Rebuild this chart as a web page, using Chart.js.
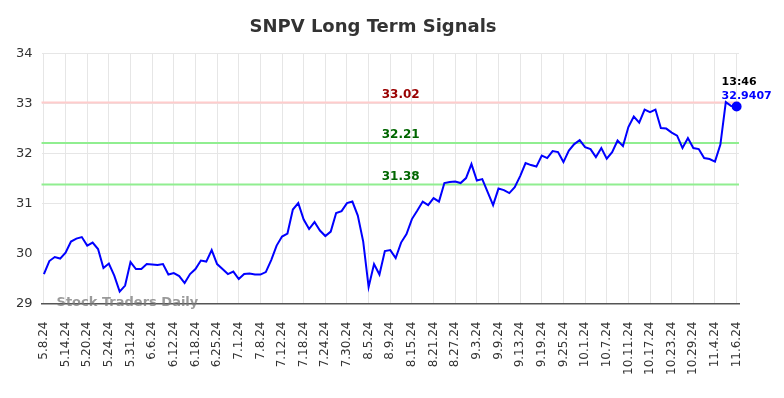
<!DOCTYPE html>
<html lang="en">
<head>
    <meta charset="UTF-8">
    <title>SNPV Long Term Signals</title>
    <script src="https://cdn.jsdelivr.net/npm/chart.js"></script>
    <style>
        body { margin: 0; background: #ffffff; }
        .wrap { width: 784px; height: 398px; }
    </style>
</head>
<body>
<div class="wrap"><canvas id="signalChart" width="784" height="398"></canvas></div>

<script>
    // Tick labels, one every 4 trading days
    const tickLabels = ['5.8.24', '5.14.24', '5.20.24', '5.24.24', '5.31.24', '6.6.24', '6.12.24', '6.18.24',
        '6.25.24', '7.1.24', '7.8.24', '7.12.24', '7.18.24', '7.24.24', '7.30.24', '8.5.24', '8.9.24',
        '8.15.24', '8.21.24', '8.27.24', '9.3.24', '9.9.24', '9.13.24', '9.19.24', '9.25.24', '10.1.24',
        '10.7.24', '10.11.24', '10.17.24', '10.23.24', '10.29.24', '11.4.24', '11.6.24'];

    // Closing prices
    const prices = [
        29.59, 29.85, 29.93, 29.90, 30.02, 30.24, 30.30, 30.33, 30.16, 30.22,
        30.09, 29.71, 29.80, 29.56, 29.24, 29.36, 29.83, 29.69, 29.69, 29.79,
        29.78, 29.77, 29.79, 29.58, 29.61, 29.55, 29.41, 29.59, 29.69, 29.86,
        29.84, 30.07, 29.79, 29.69, 29.59, 29.64, 29.49, 29.59, 29.60, 29.58,
        29.58, 29.63, 29.87, 30.16, 30.34, 30.40, 30.88, 31.01, 30.68, 30.49,
        30.63, 30.46, 30.35, 30.44, 30.81, 30.85, 31.01, 31.04, 30.76, 30.24,
        29.33, 29.79, 29.58, 30.05, 30.07, 29.91, 30.22, 30.39, 30.69, 30.86,
        31.04, 30.97, 31.11, 31.04, 31.41, 31.43, 31.44, 31.41, 31.51, 31.79,
        31.46, 31.49, 31.23, 30.97, 31.30, 31.27, 31.21, 31.33, 31.55, 31.81,
        31.77, 31.74, 31.96, 31.91, 32.05, 32.03, 31.83, 32.06, 32.19, 32.27,
        32.13, 32.09, 31.93, 32.11, 31.90, 32.03, 32.26, 32.15, 32.53, 32.74,
        32.62, 32.88, 32.83, 32.88, 32.51, 32.50, 32.42, 32.36, 32.11, 32.31,
        32.11, 32.09, 31.91, 31.89, 31.84, 32.18, 33.03, 32.95, 32.9407
    ];

    // Signal levels
    const levelValues = [33.02, 32.21, 31.38];
    const levelLineColors = ['#ffcccc', '#90ee90', '#90ee90'];
    const levelTextColors = ['#990000', '#006600', '#006600'];

    const lastTime = '13:46';
    const lastIndex = prices.length - 1;

    Chart.defaults.font.family = "'DejaVu Sans', sans-serif";

    // Draws the signal levels, their labels, the last price note and the watermark
    const signalPlugin = {
        id: 'signals',
        beforeDatasetsDraw(chart) {
            const { ctx, chartArea, scales } = chart;
            ctx.save();
            levelValues.forEach((v, i) => {
                const y = scales.y.getPixelForValue(v);
                ctx.strokeStyle = levelLineColors[i];
                ctx.lineWidth = 2;
                ctx.beginPath();
                ctx.moveTo(chartArea.left, y);
                ctx.lineTo(chartArea.right, y);
                ctx.stroke();
            });
            ctx.restore();
        },
        afterDatasetsDraw(chart) {
            const { ctx, chartArea, scales } = chart;
            ctx.save();
            const cx = chartArea.left + chartArea.width * 0.515;
            ctx.font = "bold 12px 'DejaVu Sans'";
            ctx.textAlign = 'center';
            ctx.textBaseline = 'middle';
            levelValues.forEach((v, i) => {
                const y = scales.y.getPixelForValue(v);
                ctx.fillStyle = levelTextColors[i];
                ctx.fillText(v.toFixed(2), cx, y - 8);
            });

            // last price note
            const lx = scales.x.getPixelForValue(lastIndex);
            const ly = scales.y.getPixelForValue(prices[lastIndex]);
            ctx.font = "bold 11px 'DejaVu Sans'";
            ctx.textAlign = 'left';
            ctx.fillStyle = '#000000';
            ctx.fillText(lastTime, lx - 15, ly - 24);
            ctx.fillStyle = '#0000ff';
            ctx.fillText(String(prices[lastIndex]), lx - 15, ly - 10);

            // watermark
            ctx.font = "bold 13px 'DejaVu Sans'";
            ctx.fillStyle = 'rgba(120,120,120,0.75)';
            ctx.fillText('Stock Traders Daily', chartArea.left + 15, chartArea.bottom - 1);
            ctx.restore();
        }
    };

    const ctx = document.getElementById('signalChart').getContext('2d');
    const signalChart = new Chart(ctx, {
        type: 'line',
        data: {
            datasets: [{
                data: prices.map((p, i) => ({ x: i, y: p })),
                borderColor: '#0000ff',
                backgroundColor: '#0000ff',
                borderWidth: 2,
                tension: 0,
                clip: false,
                pointRadius: c => (c.dataIndex === lastIndex ? 4 : 0),
                pointHoverRadius: 0
            }]
        },
        options: {
            responsive: false,
            animation: false,
            layout: { padding: { left: 7, right: 45, top: 0, bottom: 5 } },
            plugins: {
                legend: { display: false },
                tooltip: { enabled: false },
                title: {
                    display: true,
                    text: 'SNPV Long Term Signals',
                    color: '#333333',
                    font: { size: 18, weight: 'bold' },
                    padding: { top: 17, bottom: 15 }
                }
            },
            scales: {
                x: {
                    type: 'linear',
                    min: -0.44,
                    max: 128.44,
                    afterBuildTicks: axis => {
                        axis.ticks = tickLabels.map((_, i) => ({ value: i * 4 }));
                    },
                    ticks: {
                        autoSkip: false,
                        maxRotation: 90,
                        minRotation: 90,
                        padding: 18,
                        color: '#333333',
                        font: { size: 12 },
                        callback: value => tickLabels[Math.round(value / 4)]
                    },
                    grid: { color: '#e6e6e6', drawTicks: false },
                    border: { color: '#555555', width: 1.5 }
                },
                y: {
                    min: 29,
                    max: 34,
                    ticks: {
                        stepSize: 1,
                        padding: 9,
                        color: '#333333',
                        font: { size: 13 }
                    },
                    grid: { color: '#e6e6e6', drawTicks: false },
                    border: { display: false }
                }
            }
        },
        plugins: [signalPlugin]
    });
</script>
</body>
</html>
